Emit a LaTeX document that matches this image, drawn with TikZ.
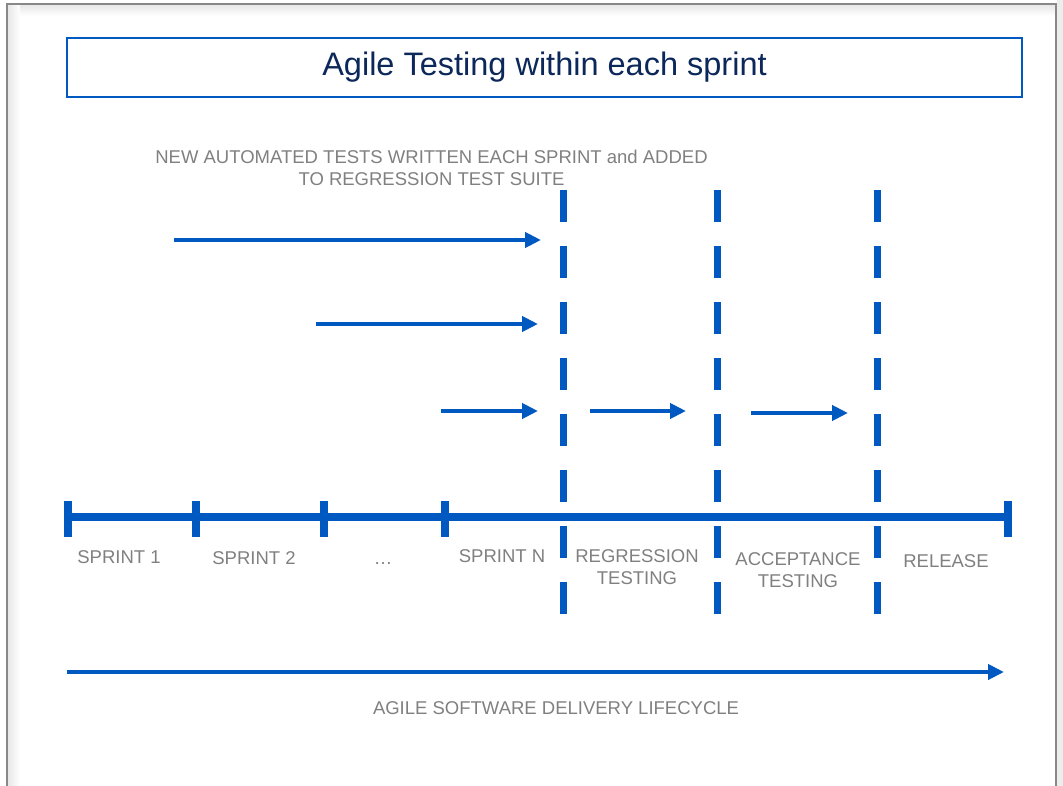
\documentclass[tikz,border=0pt]{standalone}
\usepackage{fontspec}
\setmainfont{Liberation Sans}
\usetikzlibrary{arrows.meta}
\definecolor{agileblue}{RGB}{0,89,192}
\definecolor{titlenavy}{RGB}{12,40,90}
\definecolor{labelgray}{RGB}{128,128,128}
\definecolor{framegray}{RGB}{136,136,136}
\tikzset{
  flow/.style={agileblue, line width=4pt, -{Triangle[length=16pt,width=15pt]}},
  gate/.style={agileblue, line width=7pt, dash pattern=on 32pt off 24pt},
  phase/.style={text=labelgray, font=\fontsize{18.5}{22.5}\selectfont, align=center, inner sep=0pt},
}
\begin{document}
\begin{tikzpicture}[x=1pt,y=-1pt]
    \useasboundingbox (0,0) rectangle (1063,786);
    %Background and frame
    \fill[white] (0,0) rectangle (1063,786);
    \fill[black!7] (1057,0) rectangle (1063,786);
    \shade[top color=black!9, bottom color=white] (8,5) rectangle (1055,16);
    \shade[left color=black!9, right color=white] (8,5) rectangle (20,786);
    \draw[framegray, line width=2.2pt] (7,790) -- (7,4) -- (1056,4) -- (1056,790);

    %Title box
    \node (title) [draw=agileblue, line width=1.5pt, minimum width=955pt, minimum height=59pt,
        text=titlenavy, font=\fontsize{32.5}{38}\selectfont] at (544.5,67.5) {Agile Testing within each sprint};

    % Text Node
    \node (note) [phase] at (431.5,168) {NEW AUTOMATED TESTS WRITTEN EACH SPRINT and ADDED\\TO REGRESSION TEST SUITE};

    %Gates
    \foreach \gx/\gname in {563/regr,717/accp,877/rels}{
      \coordinate (\gname top) at (\gx,190);
      \coordinate (\gname bot) at (\gx,614);
      \draw[gate] (\gname top) -- (\gname bot);
    }

    %Test arrows
    \coordinate (a1s) at (174,240);  \coordinate (a1e) at (541,240);
    \coordinate (a2s) at (316,324);  \coordinate (a2e) at (538,324);
    \coordinate (a3s) at (441,411);  \coordinate (a3e) at (538,411);
    \coordinate (a4s) at (590,411);  \coordinate (a4e) at (686,411);
    \coordinate (a5s) at (751,413);  \coordinate (a5e) at (848,413);
    \foreach \s/\e in {a1s/a1e,a2s/a2e,a3s/a3e,a4s/a4e,a5s/a5e}
      \draw[flow] (\s) -- (\e);

    %Timeline
    \coordinate (tstart) at (67.5,517);
    \coordinate (tend) at (1008,517);
    \draw[agileblue, line width=8pt] (tstart) -- (tend);
    \foreach \tx in {67.5,196,324,445,1008}
      \draw[agileblue, line width=8pt] (\tx,501) -- (\tx,537);

    % Text Node
    \node (sprint1) [phase] at (119,557) {SPRINT 1};
    \node (sprint2) [phase] at (254,558) {SPRINT 2};
    \node (sprintdots) [phase] at (383,564) {\dots};
    \node (sprintn) [phase] at (502,556) {SPRINT N};
    \node (regression) [phase] at (637,567) {REGRESSION\\TESTING};
    \node (acceptance) [phase] at (798,570) {ACCEPTANCE\\TESTING};
    \node (release) [phase] at (946,561) {RELEASE};

    %Lifecycle
    \coordinate (lstart) at (67,672);
    \coordinate (lend) at (1004,672);
    \draw[flow] (lstart) -- (lend);
    \node (lifecycle) [phase] at (556,708) {AGILE SOFTWARE DELIVERY LIFECYCLE};
\end{tikzpicture}
\end{document}
